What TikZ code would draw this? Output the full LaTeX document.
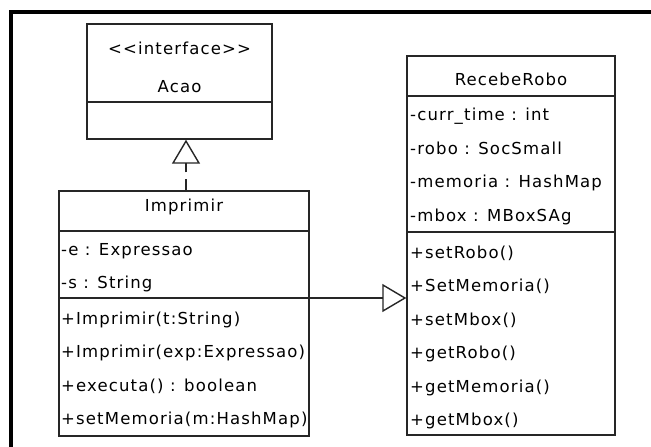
\documentclass[tikz,border=0pt]{standalone}
\usepackage{fontspec}
\newfontfamily\umlfont{DejaVu Sans}[LetterSpace=7]
\usetikzlibrary{arrows.meta}
\begin{document}
\begin{tikzpicture}[x=1pt,y=-1pt,
  umlbox/.style={draw=black!85, line width=1.4pt, fill=white, inner sep=0pt},
  divider/.style={draw=black!85, line width=1.4pt},
  member/.style={anchor=base west, inner sep=0pt, font=\umlfont\fontsize{16.5}{19}\selectfont, text=black},
  title/.style={anchor=base, inner sep=0pt, font=\umlfont\fontsize{16.5}{19}\selectfont, text=black},
  link/.style={draw=black!85, line width=1.4pt},
  hollow/.style={-{Triangle[open, width=28pt, length=24pt, line width=1.4pt]}}]
\useasboundingbox (0,0) rectangle (651,447);
\fill[white] (0,0) rectangle (651,447);

% outer frame (top and left edges)
\draw[line width=3.5pt, line join=miter] (651,12) -- (11,12) -- (11,447);

% interface Acao
\node[umlbox, minimum width=185pt, minimum height=115pt] (acao) at (179.5,81.5) {};
\draw[divider] (87,102) -- (272,102);
\node[title] (acaoStereo) at (179.5,54) {<<interface>>};
\node[title] (acaoName) at (179.5,92) {Acao};

% class Imprimir
\node[umlbox, minimum width=250pt, minimum height=245pt] (imp) at (184,313.5) {};
\draw[divider] (59,231) -- (309,231);
\draw[divider] (59,298) -- (309,298);
\node[title] (impName) at (184,211) {Imprimir};
\node[member] (impA1) at (61,255) {-e : Expressao};
\node[member] (impA2) at (61,288.5) {-s : String};
\node[member] (impM1) at (61,324) {+Imprimir(t:String)};
\node[member] (impM2) at (61,357.5) {+Imprimir(exp:Expressao)};
\node[member] (impM3) at (61,391) {+executa() : boolean};
\node[member] (impM4) at (61,424.5) {+setMemoria(m:HashMap)};

% class RecebeRobo
\node[umlbox, minimum width=208pt, minimum height=379pt] (rr) at (511,245.5) {};
\draw[divider] (407,96) -- (615,96);
\draw[divider] (407,232) -- (615,232);
\node[title] (rrName) at (511,85) {RecebeRobo};
\node[member] (rrA1) at (410,120) {-curr\_time : int};
\node[member] (rrA2) at (410,154) {-robo : SocSmall};
\node[member] (rrA3) at (410,187.5) {-memoria : HashMap};
\node[member] (rrA4) at (410,221) {-mbox : MBoxSAg};
\node[member] (rrM1) at (410,258) {+setRobo()};
\node[member] (rrM2) at (410,291.5) {+SetMemoria()};
\node[member] (rrM3) at (410,325) {+setMbox()};
\node[member] (rrM4) at (410,358.5) {+getRobo()};
\node[member] (rrM5) at (410,392) {+getMemoria()};
\node[member] (rrM6) at (410,425.5) {+getMbox()};

% realization: Imprimir implements Acao
\coordinate (realx) at (186,0);
\draw[link, hollow, dash pattern=on 11pt off 7pt] (imp.north -| realx) -- (acao.south -| realx);

% generalization: Imprimir extends RecebeRobo
\coordinate (geny) at (0,298);
\draw[link, hollow] (imp.east |- geny) -- (rr.west |- geny);
\end{tikzpicture}
\end{document}
